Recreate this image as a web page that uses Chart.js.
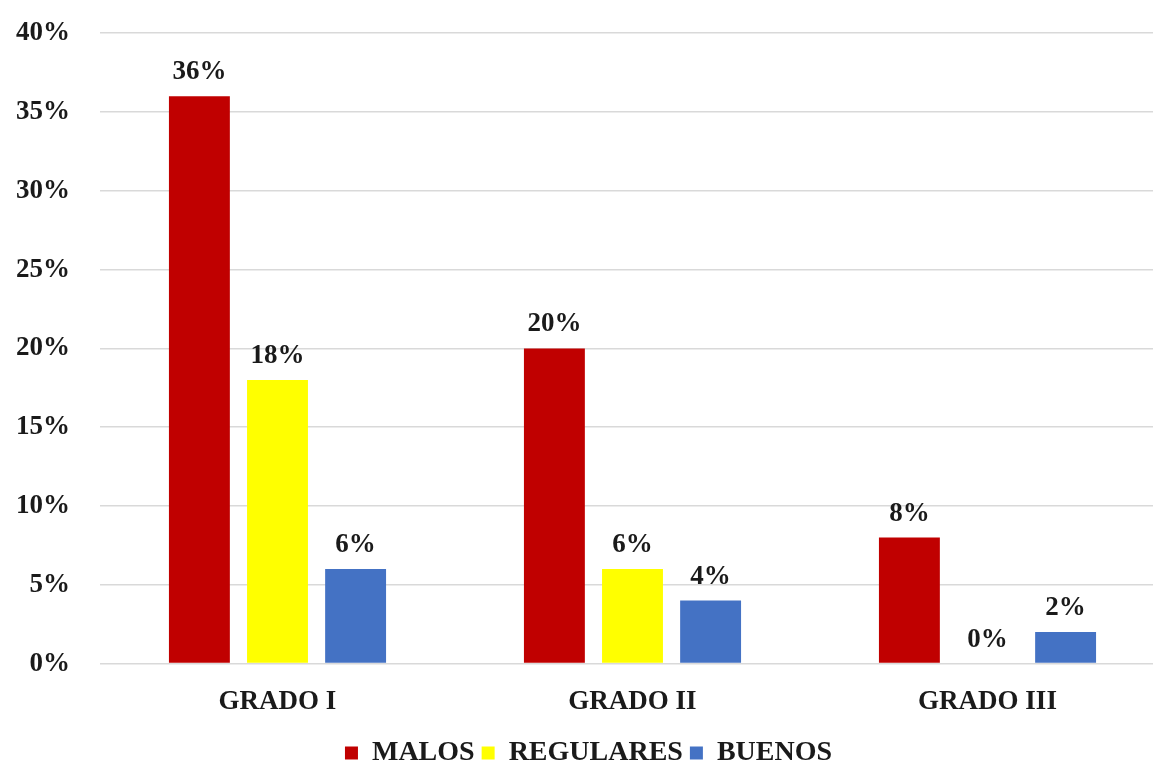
<!DOCTYPE html>
<html>
<head>
<meta charset="utf-8">
<script src="https://cdn.jsdelivr.net/npm/chart.js@4.4.0/dist/chart.umd.min.js"></script>
<style>
  html, body { margin: 0; padding: 0; background: #fff; overflow: hidden; }
  #wrap { width: 1165px; height: 762px; overflow: hidden; }
  #grafico { display: block; margin-top: -13px; }
</style>
</head>
<body>
<div id="wrap"><canvas id="grafico" width="1165" height="790"></canvas></div>
<script>
// categorías y valores (%)
const grados = ['GRADO I', 'GRADO II', 'GRADO III'];
const malos = [36, 20, 8];
const regulares = [18, 6, 0];
const buenos = [6, 4, 2];
const ticksY = [0, 5, 10, 15, 20, 25, 30, 35, 40];

const fuente = 'Liberation Serif, Times New Roman, serif';

// etiquetas de valor sobre cada barra
const etiquetasValor = {
  id: 'etiquetasValor',
  afterDatasetsDraw(chart) {
    const ctx = chart.ctx;
    ctx.save();
    ctx.font = 'bold 27px ' + fuente;
    ctx.fillStyle = '#1a1a1a';
    ctx.textAlign = 'center';
    ctx.textBaseline = 'alphabetic';
    chart.data.datasets.forEach((ds, i) => {
      const meta = chart.getDatasetMeta(i);
      meta.data.forEach((bar, j) => {
        ctx.fillText(ds.data[j] + '%', bar.x, bar.y - 17);
      });
    });
    ctx.restore();
  }
};

new Chart(document.getElementById('grafico'), {
  type: 'bar',
  data: {
    labels: grados,
    datasets: [
      { label: 'MALOS', data: malos, backgroundColor: '#C00000' },
      { label: 'REGULARES', data: regulares, backgroundColor: '#FFFF00' },
      { label: 'BUENOS', data: buenos, backgroundColor: '#4472C4' }
    ]
  },
  options: {
    responsive: false,
    animation: false,
    layout: { padding: { left: 12, top: 8, right: 0, bottom: 0 } },
    datasets: {
      bar: { categoryPercentage: 0.66, barPercentage: 0.78 }
    },
    scales: {
      x: {
        grid: { display: false },
        border: { display: false },
        ticks: {
          color: '#1a1a1a',
          font: { family: fuente, size: 27, weight: 'bold' },
          padding: 14
        }
      },
      y: {
        min: 0,
        max: 40,
        afterBuildTicks(axis) { axis.ticks = ticksY.map(v => ({ value: v })); },
        afterFit(axis) { axis.width = 88; },
        grid: { color: '#d9d9d9', lineWidth: 1.5, drawTicks: false },
        border: { display: false },
        ticks: {
          color: '#1a1a1a',
          font: { family: fuente, size: 27, weight: 'bold' },
          padding: 30,
          callback: v => v + '%'
        }
      }
    },
    plugins: {
      tooltip: { enabled: false },
      legend: {
        position: 'bottom',
        labels: {
          color: '#1a1a1a',
          font: { family: fuente, size: 28, weight: 'bold' },
          boxWidth: 13,
          boxHeight: 13,
          padding: 7
        }
      }
    }
  },
  plugins: [etiquetasValor]
});
</script>
</body>
</html>
